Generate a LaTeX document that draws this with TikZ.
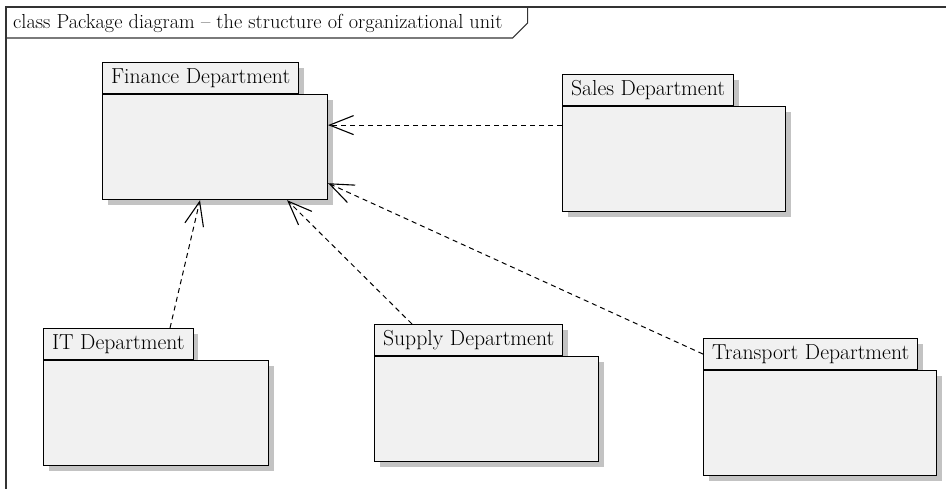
\documentclass[tikz,border=0pt]{standalone}
\usepackage{fontspec}
\usepackage{xcolor}
\usepackage{tikz}
\usetikzlibrary{arrows.meta, positioning, calc, shadows}

\definecolor{pkgfill}{HTML}{F1F1F1}
\definecolor{pkgshadow}{HTML}{C3C3C3}

\tikzset{
    frame/.style={line width=1.1pt, draw=black!80},
    pkgshade/.style={drop shadow={shadow xshift=5pt, shadow yshift=-5pt, fill=pkgshadow, opacity=1}},
    pkgtab/.style={draw, fill=pkgfill, line width=1.1pt, pkgshade, minimum height=31pt, inner xsep=8.5pt, inner ysep=0pt, anchor=north west},
    pkgbody/.style={draw, fill=pkgfill, line width=1.1pt, pkgshade, minimum width=225pt, minimum height=105pt, inner sep=0pt, anchor=north west},
    dep/.style={line width=1pt, dash pattern=on 5pt off 4pt, -{Straight Barb[length=24pt, width=19pt, line width=1.1pt]}}
}

\begin{document}
\begin{tikzpicture}[x=1pt, y=-1pt, font=\fontsize{21.7}{25}\selectfont]
        \useasboundingbox (0,0) rectangle (946,488);

        % frame and its name tag
        \draw[frame] (6,500) |- (960,7);
        \node[anchor=base west, inner sep=0pt, font=\fontsize{20.3}{24}\selectfont] (title) at (13,28) {class Package diagram -- the structure of organizational unit};
        \coordinate (tagbase) at (6,38);
        \draw[frame] (tagbase) -- ([xshift=10pt]title.east |- tagbase) -- ++(15,-15) -- ++(0,-16);

        % packages
        \node[pkgtab] (fintab) at (102,62) {Finance Department};
        \node[pkgbody] (finbody) at (fintab.south west) {};

        \node[pkgtab] (salestab) at (562,74) {Sales Department};
        \node[pkgbody, minimum width=223pt] (salesbody) at (salestab.south west) {};

        \node[pkgtab] (ittab) at (43,328) {IT Department};
        \node[pkgbody] (itbody) at (ittab.south west) {};

        \node[pkgtab] (supplytab) at (374,324) {Supply Department};
        \node[pkgbody, minimum width=224pt] (supplybody) at (supplytab.south west) {};

        \node[pkgtab] (transtab) at (703,338) {Transport Department};
        \node[pkgbody, minimum width=233pt] (transbody) at (transtab.south west) {};

        % dependencies
        \draw[dep] ([yshift=-19pt]salesbody.north west) -- ([yshift=-31pt]finbody.north east);
        \draw[dep] (transtab.west) -- ([yshift=17pt]finbody.south east);
        \draw[dep] ([xshift=38pt]supplytab.north west) -- ([xshift=-41pt]finbody.south east);
        \draw[dep] ([xshift=127pt]ittab.north west) -- ([xshift=98pt]finbody.south west);
    \end{tikzpicture}
\end{document}
